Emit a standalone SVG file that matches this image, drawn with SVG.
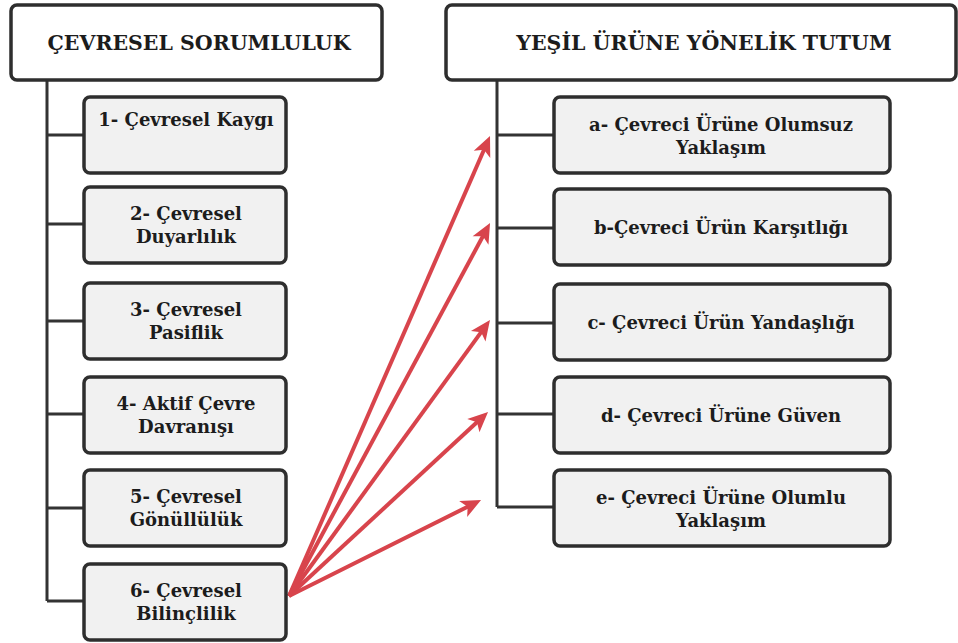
<svg xmlns="http://www.w3.org/2000/svg" width="958" height="643" viewBox="0 0 958 643">
  <style>
    .head { fill: #ffffff; stroke: #2e2e2e; stroke-width: 3.5; }
    .box { fill: #f1f1f1; stroke: #2e2e2e; stroke-width: 3.5; }
    .tree { fill: none; stroke: #333333; stroke-width: 3; }
    .ht, .t { font-family: "DejaVu Serif", serif; font-weight: bold; fill: #1c1c1c; text-anchor: middle; }
    .ht { font-size: 20.5px; }
    .t { font-size: 18px; }
    .arr { fill: none; stroke: #d8444c; stroke-width: 4; marker-end: url(#head); }
  </style>
  <defs>
    <marker id="head" markerUnits="userSpaceOnUse" viewBox="-15 -15 30 30" markerWidth="30" markerHeight="30" refX="0" refY="0" orient="auto">
      <path d="M10,0 L-10,-9 L-5,0 L-10,9 Z" fill="#d8444c"/>
    </marker>
  </defs>

  <rect width="958" height="643" fill="#ffffff"/>

  <!-- tree connectors -->
  <g id="connectors">
    <path class="tree" d="M47,80 V601 M47,135 H84 M47,224 H84 M47,321 H84 M47,414 H84 M47,508 H84 M47,601 H84"/>
    <path class="tree" d="M497,80 V507 M497,135 H554 M497,228 H554 M497,323 H554 M497,414 H554 M497,507 H554"/>
    <!-- links from 6 to a-e -->
    <line class="arr" x1="289" y1="596" x2="486" y2="145.2"/>
    <line class="arr" x1="289" y1="596" x2="485.3" y2="231.8"/>
    <line class="arr" x1="289" y1="596" x2="484.1" y2="328.1"/>
    <line class="arr" x1="289" y1="596" x2="480.7" y2="418.8"/>
    <line class="arr" x1="289" y1="596" x2="472.1" y2="504.5"/>
  </g>

  <!-- left column -->
  <g id="cevresel-sorumluluk">
    <rect class="head" x="11" y="5" width="371" height="75" rx="6"/>
    <text class="ht" x="199" y="50">ÇEVRESEL SORUMLULUK</text>
  </g>
  <g id="l1">
    <rect class="box" x="84" y="97" width="202" height="76" rx="6"/>
    <text class="t" x="186" y="126">1- Çevresel Kaygı</text>
  </g>
  <g id="l2">
    <rect class="box" x="84" y="187" width="202" height="76" rx="6"/>
    <text class="t" x="186" y="220">2- Çevresel</text>
    <text class="t" x="186" y="243">Duyarlılık</text>
  </g>
  <g id="l3">
    <rect class="box" x="84" y="283" width="202" height="76" rx="6"/>
    <text class="t" x="186" y="316">3- Çevresel</text>
    <text class="t" x="186" y="339">Pasiflik</text>
  </g>
  <g id="l4">
    <rect class="box" x="84" y="377" width="202" height="76" rx="6"/>
    <text class="t" x="186" y="410">4- Aktif Çevre</text>
    <text class="t" x="186" y="433">Davranışı</text>
  </g>
  <g id="l5">
    <rect class="box" x="84" y="470" width="202" height="76" rx="6"/>
    <text class="t" x="186" y="503">5- Çevresel</text>
    <text class="t" x="186" y="526">Gönüllülük</text>
  </g>
  <g id="l6">
    <rect class="box" x="84" y="564" width="202" height="76" rx="6"/>
    <text class="t" x="186" y="597">6- Çevresel</text>
    <text class="t" x="186" y="620">Bilinçlilik</text>
  </g>

  <!-- right column -->
  <g id="yesil-urune-yonelik-tutum">
    <rect class="head" x="446" y="5" width="510" height="75" rx="6"/>
    <text class="ht" x="704" y="50">YEŞİL ÜRÜNE YÖNELİK TUTUM</text>
  </g>
  <g id="ra">
    <rect class="box" x="554" y="97" width="336" height="76" rx="6"/>
    <text class="t" x="721" y="131">a- Çevreci Ürüne Olumsuz</text>
    <text class="t" x="721" y="154">Yaklaşım</text>
  </g>
  <g id="rb">
    <rect class="box" x="554" y="189" width="336" height="76" rx="6"/>
    <text class="t" x="721" y="234">b-Çevreci Ürün Karşıtlığı</text>
  </g>
  <g id="rc">
    <rect class="box" x="554" y="284" width="336" height="76" rx="6"/>
    <text class="t" x="721" y="329">c- Çevreci Ürün Yandaşlığı</text>
  </g>
  <g id="rd">
    <rect class="box" x="554" y="377" width="336" height="76" rx="6"/>
    <text class="t" x="721" y="422">d- Çevreci Ürüne Güven</text>
  </g>
  <g id="re">
    <rect class="box" x="554" y="470" width="336" height="76" rx="6"/>
    <text class="t" x="721" y="504">e- Çevreci Ürüne Olumlu</text>
    <text class="t" x="721" y="527">Yaklaşım</text>
  </g>
</svg>
